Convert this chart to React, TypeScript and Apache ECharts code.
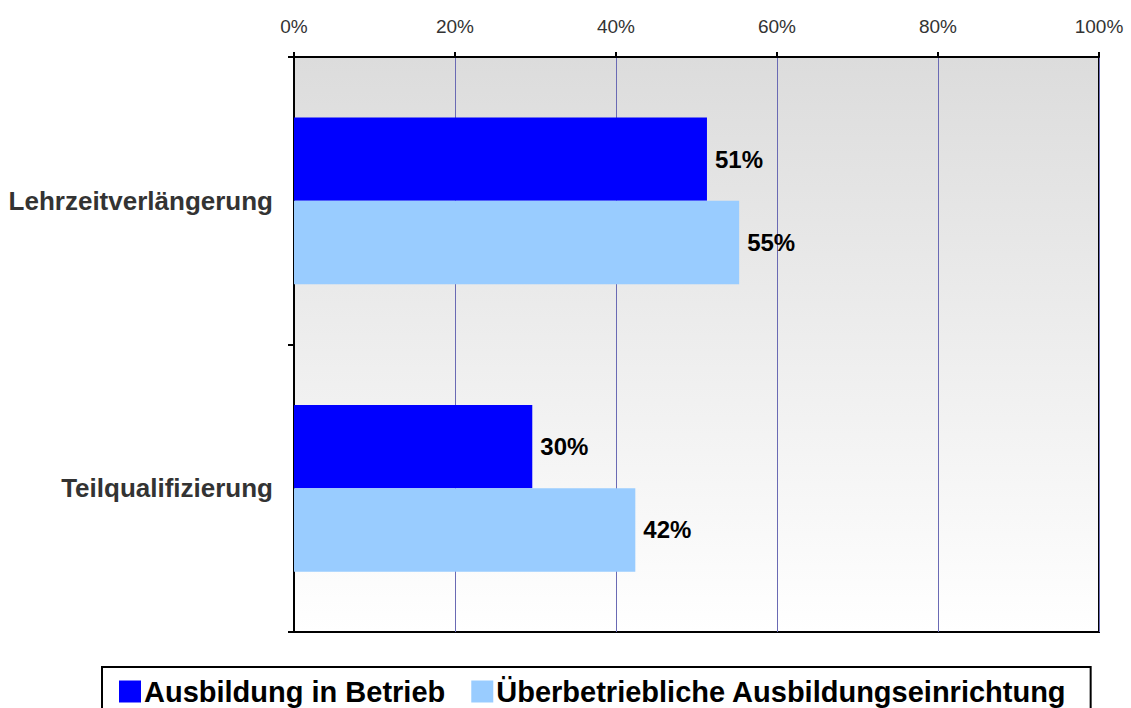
import React, { useEffect, useRef } from "react";
import * as echarts from "echarts";

const categories = ["Lehrzeitverlängerung", "Teilqualifizierung"];
const seriesNames = ["Ausbildung in Betrieb", "Überbetriebliche Ausbildungseinrichtung"];
const betriebValues = [51.3, 29.6];
const ueberbetrieblichValues = [55.3, 42.4];
const seriesColors = ["#0000ff", "#99ccff"];
const xTicks = { min: 0, max: 100, interval: 20 };

export default function App() {
  const ref = useRef<HTMLDivElement>(null);
  useEffect(() => {
    if (!ref.current) return;
    const chart = echarts.init(ref.current, undefined, { renderer: "svg" });
    const font = "'Liberation Sans', Arial, Helvetica, sans-serif";
    const labelCfg = {
      show: true,
      position: "right",
      distance: 8,
      formatter: (p: any) => Math.round(p.value) + "%",
      fontFamily: font,
      fontSize: 24,
      fontWeight: "bold",
      color: "#000",
    };
    chart.setOption({
      animation: false,
      textStyle: { fontFamily: font },
      grid: {
        left: 294,
        right: 32,
        top: 57,
        bottom: 76,
        show: true,
        borderColor: "#000",
        borderWidth: 2,
        backgroundColor: new echarts.graphic.LinearGradient(0, 0, 0, 1, [
          { offset: 0, color: "#dcdcdc" },
          { offset: 1, color: "#ffffff" },
        ]),
      },
      legend: {
        data: seriesNames,
        left: 102,
        top: 667,
        orient: "horizontal",
        icon: "rect",
        itemWidth: 22,
        itemHeight: 22,
        itemGap: 26,
        borderColor: "#000",
        borderWidth: 2,
        padding: [10, 24, 14, 17],
        textStyle: {
          fontFamily: font,
          fontSize: 29,
          fontWeight: "bold",
          color: "#000",
          padding: [0, 0, 0, -2],
        },
      },
      xAxis: {
        type: "value",
        position: "top",
        min: xTicks.min,
        max: xTicks.max,
        interval: xTicks.interval,
        axisLine: { show: true, lineStyle: { color: "#000", width: 2 } },
        axisTick: { show: true, length: 5, lineStyle: { color: "#000", width: 2 } },
        axisLabel: {
          formatter: "{value}%",
          margin: 21,
          fontFamily: font,
          fontSize: 19,
          color: "#333",
        },
        splitLine: { show: true, lineStyle: { color: "#6a6ab4", width: 1 } },
      },
      yAxis: {
        type: "category",
        inverse: true,
        data: categories,
        axisLine: { show: true, lineStyle: { color: "#000", width: 2 } },
        axisTick: { show: true, length: 6, lineStyle: { color: "#000", width: 2 } },
        axisLabel: {
          margin: 21,
          fontFamily: font,
          fontSize: 26,
          fontWeight: "bold",
          color: "#333",
        },
      },
      series: [
        {
          name: seriesNames[0],
          type: "bar",
          data: betriebValues,
          itemStyle: { color: seriesColors[0] },
          barGap: "0%",
          barCategoryGap: "42%",
          label: labelCfg,
        },
        {
          name: seriesNames[1],
          type: "bar",
          data: ueberbetrieblichValues,
          itemStyle: { color: seriesColors[1] },
          barGap: "0%",
          barCategoryGap: "42%",
          label: labelCfg,
        },
      ],
    });
    return () => chart.dispose();
  }, []);
  return <div ref={ref} style={{ width: 1131, height: 708, position: "absolute", left: 0, top: 0 }} />;
}
